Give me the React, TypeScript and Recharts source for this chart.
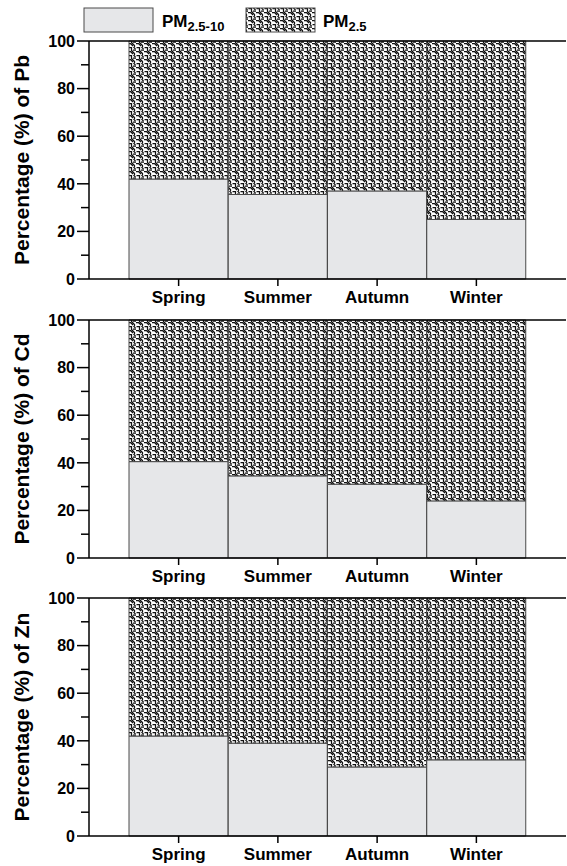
import React from 'react';
import { Bar, BarChart, ReferenceLine, XAxis, YAxis } from 'recharts';

const seasons = ['Spring', 'Summer', 'Autumn', 'Winter'];

// PM2.5-10 share (grey) and PM2.5 share (hatched), per metal
const pbCoarse = [42, 35.5, 37, 25];
const pbFine = [58, 64.5, 63, 75];
const cdCoarse = [40.5, 34.5, 31, 24];
const cdFine = [59.5, 65.5, 69, 76];
const znCoarse = [42, 39, 29, 32];
const znFine = [58, 61, 71, 68];

const yTicks = [0, 10, 20, 30, 40, 50, 60, 70, 80, 90, 100];

const FONT = 'Arial, "Liberation Sans", sans-serif';
const GREY = '#e6e7e9';
const EDGE = '#4a4a4a';

const panels = [
    { metal: 'Pb', coarse: pbCoarse, fine: pbFine, top: 31 },
    { metal: 'Cd', coarse: cdCoarse, fine: cdFine, top: 310 },
    { metal: 'Zn', coarse: znCoarse, fine: znFine, top: 588 },
];

function Hatch({ id }: { id: string }) {
    return (
        <pattern id={id} width={8} height={8} patternUnits="userSpaceOnUse">
            <rect width={8} height={8} fill="#fff" />
            <path
                d="M0.5,0.5 H3.5 V3.5 L6.5,6.5 V8 M0,4.5 H2.5 L5,7 M5.5,0 L7.5,2 M5,3 H8"
                stroke="#111"
                strokeWidth={1.25}
                fill="none"
            />
        </pattern>
    );
}

const YTick = (props: any) => {
    const { x, y, payload } = props;
    const major = payload.value % 20 === 0;
    const axisX = x + 10;
    return (
        <g>
            <line x1={axisX - (major ? 12 : 8)} x2={axisX} y1={y} y2={y} stroke="#000" strokeWidth={1.5} />
            {major && (
                <text x={axisX - 14} y={y} dy="0.36em" textAnchor="end" fontFamily={FONT} fontWeight="bold" fontSize={16} fill="#000">
                    {payload.value}
                </text>
            )}
        </g>
    );
};

function Panel({ metal, coarse, fine, top }: { metal: string; coarse: number[]; fine: number[]; top: number }) {
    const data = seasons.map((s, i) => ({ season: s, coarse: coarse[i], fine: fine[i] }));
    const pid = `hatch-${metal}`;
    return (
        <div style={{ position: 'absolute', left: 0, top }}>
            <BarChart
                width={567}
                height={278}
                data={data}
                margin={{ top: 10, right: 1, left: 0, bottom: 0 }}
                barCategoryGap={0}
                barGap={0}
            >
                <defs>
                    <Hatch id={pid} />
                </defs>
                <XAxis
                    dataKey="season"
                    height={30}
                    padding={{ left: 40, right: 40 }}
                    axisLine={{ stroke: '#000', strokeWidth: 1.5 }}
                    tickLine={{ stroke: '#000', strokeWidth: 1.5 }}
                    tickSize={7}
                    tickMargin={5}
                    tick={{ fill: '#000', fontFamily: FONT, fontWeight: 'bold', fontSize: 17 }}
                />
                <YAxis
                    width={89}
                    domain={[0, 100]}
                    ticks={yTicks}
                    interval={0}
                    tickSize={8}
                    tickMargin={2}
                    tickLine={false}
                    axisLine={{ stroke: '#000', strokeWidth: 1.5 }}
                    tick={<YTick />}
                    label={({ viewBox }: any) => (
                        <text
                            transform={`translate(29, ${viewBox.y + viewBox.height / 2}) rotate(-90)`}
                            textAnchor="middle"
                            fontFamily={FONT}
                            fontWeight="bold"
                            fontSize={21}
                            fill="#000"
                        >
                            {`Percentage (%) of ${metal}`}
                        </text>
                    )}
                />
                <YAxis
                    yAxisId="frame"
                    orientation="right"
                    width={0}
                    domain={[0, 100]}
                    tick={false}
                    tickLine={false}
                    axisLine={{ stroke: '#000', strokeWidth: 1.5 }}
                />
                <Bar dataKey="coarse" stackId="a" fill={GREY} stroke={EDGE} strokeWidth={1} isAnimationActive={false} />
                <Bar dataKey="fine" stackId="a" fill={`url(#${pid})`} stroke={EDGE} strokeWidth={1} isAnimationActive={false} />
                <ReferenceLine y={100} stroke="#000" strokeWidth={1.5} />
            </BarChart>
        </div>
    );
}

function Legend() {
    return (
        <svg width={567} height={40} style={{ position: 'absolute', left: 0, top: 0 }}>
            <defs>
                <Hatch id="hatch-legend" />
            </defs>
            <rect x={84} y={8} width={69} height={24} fill={GREY} stroke={EDGE} strokeWidth={1} />
            <text x={162} y={27} fontFamily={FONT} fontWeight="bold" fontSize={17} fill="#000">
                PM<tspan fontSize={13} dy={4}>2.5-10</tspan>
            </text>
            <rect x={246} y={8} width={69} height={24} fill="url(#hatch-legend)" stroke={EDGE} strokeWidth={1} />
            <text x={323} y={27} fontFamily={FONT} fontWeight="bold" fontSize={17} fill="#000">
                PM<tspan fontSize={13} dy={4}>2.5</tspan>
            </text>
        </svg>
    );
}

export default function App() {
    return (
        <div style={{ position: 'absolute', left: 0, top: 0, width: 567, height: 866, background: '#fff' }}>
            <Legend />
            {panels.map((p) => (
                <Panel key={p.metal} {...p} />
            ))}
        </div>
    );
}
